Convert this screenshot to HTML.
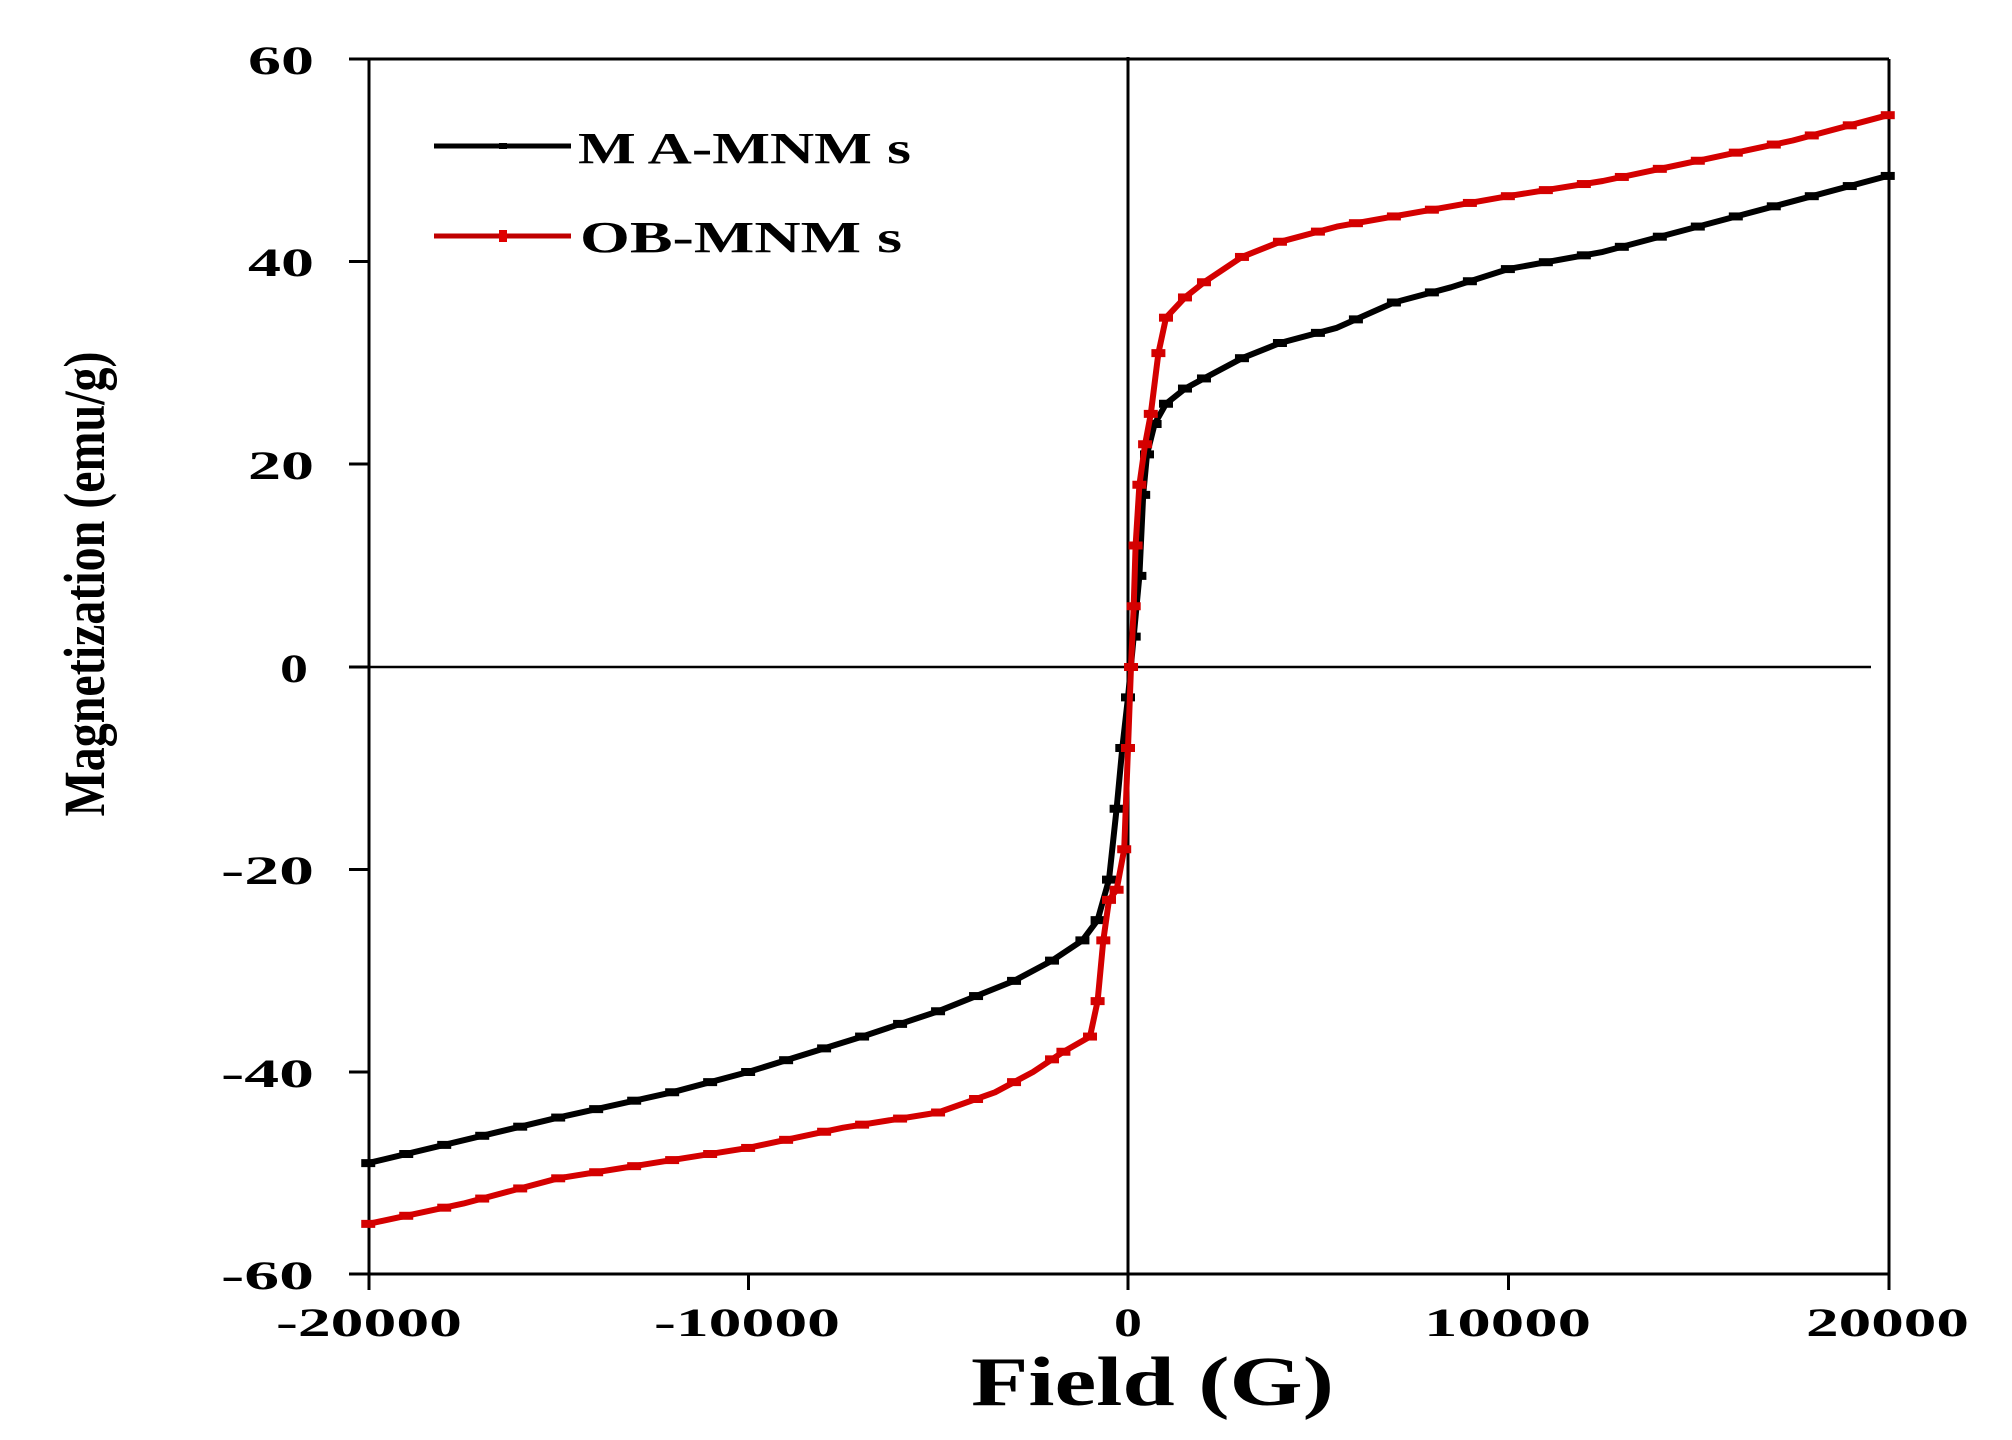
<!DOCTYPE html>
<html><head><meta charset="utf-8"><style>
html,body{margin:0;padding:0;background:#fff;}
svg{display:block;}
text{font-family:"Liberation Serif",serif;font-weight:bold;fill:#000;}
</style></head><body>
<svg id="s" width="2012" height="1440" viewBox="0 0 2012 1440" xmlns="http://www.w3.org/2000/svg">
<rect width="2012" height="1440" fill="#fff"/>
<g stroke="#000" stroke-width="3" fill="none">
<line x1="369" y1="59" x2="1889" y2="59"/>
<line x1="369" y1="59" x2="369" y2="1274"/>
<line x1="1889" y1="59" x2="1889" y2="1290"/>
<line x1="369" y1="1274" x2="1889" y2="1274"/>
<line x1="1128" y1="57" x2="1128" y2="1274"/>
<line x1="369" y1="667" x2="1871" y2="667" stroke-width="2.5"/>
<line x1="349" y1="59" x2="369" y2="59"/>
<line x1="349" y1="261.5" x2="369" y2="261.5"/>
<line x1="349" y1="464" x2="369" y2="464"/>
<line x1="349" y1="667" x2="369" y2="667"/>
<line x1="349" y1="869.5" x2="369" y2="869.5"/>
<line x1="349" y1="1072" x2="369" y2="1072"/>
<line x1="349" y1="1274" x2="369" y2="1274"/>
<line x1="369" y1="1274" x2="369" y2="1290"/>
<line x1="748.5" y1="1274" x2="748.5" y2="1290"/>
<line x1="1128" y1="1274" x2="1128" y2="1290"/>
<line x1="1508.5" y1="1274" x2="1508.5" y2="1290"/>
</g>
<g font-size="40" lengthAdjust="spacingAndGlyphs">
<text x="248" y="74" textLength="66" lengthAdjust="spacingAndGlyphs">60</text>
<text x="248" y="276" textLength="66" lengthAdjust="spacingAndGlyphs">40</text>
<text x="248" y="479" textLength="66" lengthAdjust="spacingAndGlyphs">20</text>
<text x="280" y="682" textLength="28" lengthAdjust="spacingAndGlyphs">0</text>
<text x="221" y="884" textLength="93" lengthAdjust="spacingAndGlyphs">-20</text>
<text x="221" y="1087" textLength="93" lengthAdjust="spacingAndGlyphs">-40</text>
<text x="221" y="1289" textLength="93" lengthAdjust="spacingAndGlyphs">-60</text>
</g>
<g font-size="40">
<text x="276" y="1336" textLength="186" lengthAdjust="spacingAndGlyphs">-20000</text>
<text x="654" y="1336" textLength="186" lengthAdjust="spacingAndGlyphs">-10000</text>
<text x="1114" y="1336" textLength="28" lengthAdjust="spacingAndGlyphs">0</text>
<text x="1424" y="1336" textLength="167" lengthAdjust="spacingAndGlyphs">10000</text>
<text x="1806" y="1336" textLength="163" lengthAdjust="spacingAndGlyphs">20000</text>
</g>
<text x="971" y="1405" font-size="70" textLength="363" lengthAdjust="spacingAndGlyphs">Field (G)</text>
<text transform="translate(104,584) rotate(-90)" font-size="58" text-anchor="middle" textLength="465" lengthAdjust="spacingAndGlyphs">Magnetization (emu/g)</text>
<line x1="434" y1="146" x2="571" y2="146" stroke="#000" stroke-width="5"/>
<rect x="499" y="143" width="8" height="6" fill="#000"/>
<line x1="434" y1="236" x2="571" y2="236" stroke="#c00000" stroke-width="5"/>
<rect x="499" y="230" width="8" height="12" fill="#e00000"/>
<text x="578" y="163" font-size="44" textLength="333" lengthAdjust="spacingAndGlyphs">M A-MNM s</text>
<text x="580" y="252" font-size="44" textLength="322" lengthAdjust="spacingAndGlyphs">OB-MNM s</text>
<g id="series"></g>
</svg>
<script>
(function(){
function X(g){return 1128+g*0.037988;}
function Y(m){return 667-m*10.125;}
var black=[[-20000,-49],[-15000,-44.5],[-12000,-42],[-10000,-40],[-7000,-36.5],[-5000,-34],[-3000,-31],[-2000,-29],[-1200,-27],[-800,-25],[-500,-21],[-300,-14],[-150,-8],[0,-3],[150,3],[300,9],[400,17],[500,21],[700,24],[1000,26],[1500,27.5],[2000,28.5],[3000,30.5],[4000,32],[5500,33.5],[7000,36],[8500,37.5],[10000,39.3],[12500,41],[15000,43.5],[17500,46],[20000,48.5]];
var red=[[-20000,-55],[-17500,-53],[-15000,-50.5],[-12500,-49],[-10000,-47.5],[-7500,-45.5],[-5000,-44],[-3500,-42],[-2500,-40],[-1700,-38],[-1000,-36.5],[-800,-33],[-650,-27],[-500,-23],[-300,-22],[-100,-18],[0,-8],[80,0],[150,6],[200,12],[300,18],[450,22],[600,25],[800,31],[1000,34.5],[1500,36.5],[2000,38],[3000,40.5],[4000,42],[5500,43.5],[7000,44.5],[8500,45.5],[10000,46.5],[12500,48],[15000,50],[17500,52],[20000,54.5]];
function interp(d,g){for(var i=1;i<d.length;i++){if(g<=d[i][0]){var a=d[i-1],b=d[i];return a[1]+(b[1]-a[1])*(g-a[0])/(b[0]-a[0]);}}return d[d.length-1][1];}
var ns="http://www.w3.org/2000/svg",g=document.getElementById("series");
function draw(d,col){
 var p=d.map(function(q,i){return (i?"L":"M")+X(q[0]).toFixed(1)+" "+Y(q[1]).toFixed(1);}).join(" ");
 var e=document.createElementNS(ns,"path");e.setAttribute("d",p);e.setAttribute("stroke",col);e.setAttribute("stroke-width","6");e.setAttribute("fill","none");e.setAttribute("stroke-linejoin","round");g.appendChild(e);
 var pts=[];
 for(var f=-20000;f<=20000;f+=1000){if(Math.abs(f)>=2000)pts.push([f,interp(d,f)]);}
 d.forEach(function(q){if(Math.abs(q[0])<2000)pts.push(q);});
 pts.forEach(function(q){var r=document.createElementNS(ns,"rect");r.setAttribute("x",X(q[0])-7);r.setAttribute("y",Y(q[1])-4);r.setAttribute("width",14);r.setAttribute("height",8);r.setAttribute("fill",col);g.appendChild(r);});
}
draw(black,"#000");
draw(red,"#d40000");
})();
</script>
</body></html>
